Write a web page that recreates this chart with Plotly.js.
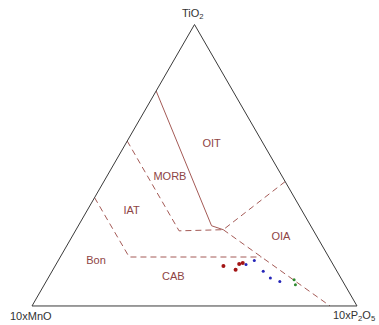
<!DOCTYPE html>
<html>
<head>
<meta charset="utf-8">
<script src="https://cdn.plot.ly/plotly-3.0.1.min.js"></script>
<style>html,body{margin:0;padding:0;background:#fff;}#chart{width:379px;height:325px;}</style>
</head>
<body>
<div id="chart"></div>
<script>
// Field boundaries (fractions of TiO2, 10xMnO, 10xP2O5)
const solidA = [0.764, 0.285, 0.271];
const solidB = [0.236, 0.305, 0.276];
const solidC = [0.000, 0.410, 0.453];

const oitOiaA = [0.442, 0.271];
const oitOiaB = [0.000, 0.276];
const oitOiaC = [0.558, 0.453];

const cabOiaA = [0.271, 0.000];
const cabOiaB = [0.276, 0.083];
const cabOiaC = [0.453, 0.917];

const morbIatA = [0.586, 0.267, 0.271];
const morbIatB = [0.414, 0.414, 0.276];
const morbIatC = [0.000, 0.319, 0.453];

const iatBonA = [0.385, 0.174, 0.174];
const iatBonB = [0.615, 0.614, 0.207];
const iatBonC = [0.000, 0.212, 0.619];

// Field labels
const fieldNames = ["OIT", "MORB", "IAT", "OIA", "Bon", "CAB"];
const fieldA = [0.575, 0.457, 0.337, 0.244, 0.160, 0.102];
const fieldB = [0.160, 0.347, 0.525, 0.112, 0.723, 0.514];
const fieldC = [0.265, 0.196, 0.138, 0.644, 0.117, 0.384];

// Corner labels
const cornerLabels = ["TiO<sub>2</sub>", "10xMnO", "10xP<sub>2</sub>O<sub>5</sub>"];

// Samples
const redA = [0.142, 0.129, 0.149, 0.153];
const redB = [0.340, 0.309, 0.288, 0.275];
const redC = [0.518, 0.562, 0.563, 0.572];

const blueA = [0.147, 0.162, 0.123, 0.099, 0.087];
const blueB = [0.268, 0.235, 0.227, 0.217, 0.194];
const blueC = [0.585, 0.603, 0.650, 0.684, 0.719];

const greenA = [0.093, 0.075];
const greenB = [0.147, 0.152];
const greenC = [0.760, 0.773];

const lineColor = '#a45a56';
const dashStyle = '6px,4px';
const fontFam = 'Liberation Sans, Arial, sans-serif';

function boundary(a, b, c, dash) {
  return {type: 'scatterternary', mode: 'lines', a: a, b: b, c: c,
    line: {color: lineColor, width: 1, dash: dash}, hoverinfo: 'skip', showlegend: false};
}
function pts(a, b, c, color, size) {
  return {type: 'scatterternary', mode: 'markers', a: a, b: b, c: c,
    marker: {color: color, size: size, line: {width: 0}}, showlegend: false};
}

const data = [
  boundary(solidA, solidB, solidC, 'solid'),
  boundary(oitOiaA, oitOiaB, oitOiaC, dashStyle),
  boundary(cabOiaA, cabOiaB, cabOiaC, dashStyle),
  boundary(morbIatA, morbIatB, morbIatC, dashStyle),
  boundary(iatBonA, iatBonB, iatBonC, dashStyle),
  {type: 'scatterternary', mode: 'text', a: fieldA, b: fieldB, c: fieldC, text: fieldNames,
    textfont: {family: fontFam, size: 11, color: '#8e4444'},
    hoverinfo: 'skip', showlegend: false},
  pts(redA, redB, redC, '#a31515', 4),
  pts(blueA, blueB, blueC, '#2626b8', 3),
  pts(greenA, greenB, greenC, '#2f8a2f', 3)
];

const axisCommon = {
  showgrid: false, showticklabels: false, ticks: '', showline: true,
  linecolor: '#3a3a3a', linewidth: 1, min: 0
};

const labelFont = {family: fontFam, size: 11, color: '#333333'};

const layout = {
  width: 379, height: 325,
  margin: {l: 0, r: 0, t: 0, b: 0},
  paper_bgcolor: '#ffffff',
  showlegend: false,
  font: {family: fontFam, size: 11, color: '#333333'},
  ternary: {
    sum: 1,
    bgcolor: '#ffffff',
    domain: {x: [32/379, 357/379], y: [19/325, 300.5/325]},
    aaxis: Object.assign({}, axisCommon, {title: {text: ''}}),
    baxis: Object.assign({}, axisCommon, {title: {text: ''}}),
    caxis: Object.assign({}, axisCommon, {title: {text: ''}})
  },
  annotations: [
    {text: cornerLabels[0], xref: 'paper', yref: 'paper', x: 193/379, y: 1 - 14/325,
     xanchor: 'center', yanchor: 'middle', showarrow: false, font: labelFont},
    {text: cornerLabels[1], xref: 'paper', yref: 'paper', x: 31/379, y: 1 - 316/325,
     xanchor: 'center', yanchor: 'middle', showarrow: false, font: labelFont},
    {text: cornerLabels[2], xref: 'paper', yref: 'paper', x: 377/379, y: 1 - 316/325,
     xanchor: 'right', yanchor: 'middle', showarrow: false, font: labelFont}
  ]
};

Plotly.newPlot('chart', data, layout, {displayModeBar: false, staticPlot: true});
</script>
</body>
</html>
